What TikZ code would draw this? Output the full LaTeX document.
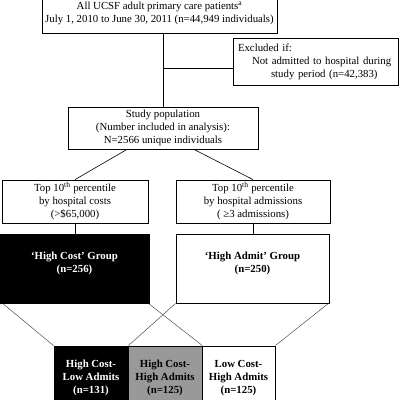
\documentclass[tikz,border=0pt]{standalone}
\usepackage{fontspec}
\setmainfont{Liberation Serif}
\usetikzlibrary{calc}
\tikzset{
  box/.style={draw, thick, align=center, inner sep=2pt, font=\fontsize{10.8}{13}\selectfont},
  grouptext/.style={font=\fontsize{10.8}{13}\selectfont\bfseries, align=center, yshift=5pt},
  link/.style={draw, semithick},
  split/.style={draw, thin, black!80}
}
\begin{document}
\begin{tikzpicture}[x=1pt, y=-1pt]
    \useasboundingbox (0,0) rectangle (400,400);
    \clip (0,0) rectangle (400,400);

    % Cohort and exclusion
    \node[box, minimum width=235pt, minimum height=39pt] (cohort) at (159.5,13.5)
        {All UCSF adult primary care patients\textsuperscript{a}\\
         July 1, 2010 to June 30, 2011 (n=44,949 individuals)};
    \node[box, align=left, inner xsep=5pt, text width=155pt, minimum height=47pt] (excl) at (315.5,62)
        {Excluded if:\\
         \hspace*{14pt}Not admitted to hospital during\\
         \hspace*{33pt}study period (n=42,383)};
    \node[box, minimum width=190pt, minimum height=42pt] (study) at (163,128)
        {Study population\\(Number included in analysis):\\N=2566 unique individuals};

    % Selection criteria
    \node[box, minimum width=146pt, minimum height=43pt] (costsel) at (75,201.5)
        {Top 10\textsuperscript{th} percentile\\by hospital costs\\(>\$65,000)};
    \node[box, minimum width=154pt, minimum height=43pt] (admsel) at (253,201.5)
        {Top 10\textsuperscript{th} percentile\\by hospital admissions\\( ≥3 admissions)};

    % Groups
    \node[box, fill=black, minimum width=149pt, minimum height=69pt,
          label={[grouptext, text=white]center:`High Cost' Group\\(n=256)}]
          (costgrp) at (74.5,268.5) {};
    \node[box, minimum width=153pt, minimum height=69pt,
          label={[grouptext]center:`High Admit' Group\\(n=250)}]
          (admgrp) at (252.5,268.5) {};

    % Overlap
    \node[box, fill=black, text=white, font=\fontsize{10.8}{13}\selectfont\bfseries,
          minimum width=74pt, minimum height=64pt] (hclo) at (91,378)
        {High Cost-\\Low Admits\\(n=131)};
    \node[box, fill=black!40, font=\fontsize{10.8}{13}\selectfont\bfseries,
          minimum width=74pt, minimum height=64pt] (hchi) at (165,378)
        {High Cost-\\High Admits\\(n=125)};
    \node[box, font=\fontsize{10.8}{13}\selectfont\bfseries,
          minimum width=73pt, minimum height=64pt] (lchi) at (238.5,378)
        {Low Cost-\\High Admits\\(n=125)};

    % Connectors
    \coordinate (branch) at (163,68);
    \draw[link] (cohort.south -| study.north) -- (study.north);
    \draw[link] (branch) -- (branch -| excl.west);
    \draw[link] ([xshift=-36pt]study.south) -- (costsel.north);
    \draw[link] ([xshift=31pt]study.south) -- (admsel.north);
    \draw[link] (costsel.south) -- (costgrp.north -| costsel.south);
    \draw[link] (admsel.south) -- (admgrp.north -| admsel.south);

    % Split lines
    \draw[split] ([xshift=3pt]costgrp.south west) -- (hclo.north west);
    \draw[split] ([xshift=-1pt]costgrp.south east) -- (hchi.north east);
    \draw[split] (admgrp.south west) -- (hclo.north east);
    \draw[split] ([xshift=-1pt]admgrp.south east) -- (lchi.north east);
\end{tikzpicture}
\end{document}
